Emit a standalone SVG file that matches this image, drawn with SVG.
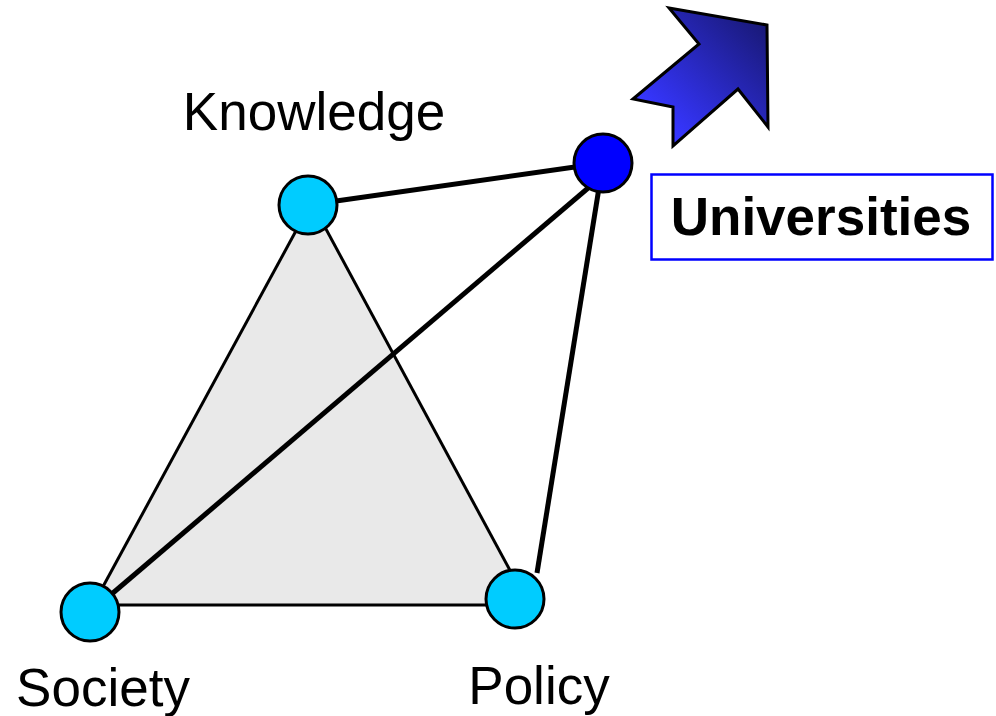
<svg xmlns="http://www.w3.org/2000/svg" width="996" height="716" viewBox="0 0 996 716">
<style>
.lbl{font-family:"Liberation Sans",Arial,sans-serif;font-size:53px;fill:#000}
.node{stroke:#000;stroke-width:3}
.edge{stroke:#000;stroke-width:3;fill:none}
.thick{stroke:#000;stroke-width:5;fill:none}
</style>
<defs>
<linearGradient id="ag" x1="0" y1="1" x2="1" y2="0">
<stop offset="0.2" stop-color="#3636ff"/>
<stop offset="1" stop-color="#16166a"/>
</linearGradient>
</defs>
<rect width="996" height="716" fill="#fff"/>
<g id="triangle">
<polygon points="311,205 93,605 527,605" fill="#e9e9e9" stroke="none"/>
</g>
<g id="connectors">
<line class="edge" x1="310" y1="205" x2="93" y2="605"/>
<line class="edge" x1="313" y1="205" x2="527" y2="602"/>
<line class="edge" x1="90" y1="605" x2="515" y2="605"/>
<line class="thick" x1="603" y1="163" x2="308" y2="205"/>
<line class="thick" x1="594" y1="183" x2="100" y2="604"/>
<line class="thick" x1="603" y1="163" x2="537" y2="573"/>
</g>
<g id="knowledge">
<circle class="node" cx="308" cy="205" r="29" fill="#00ccff"/>
<text class="lbl" x="314" y="130" text-anchor="middle">Knowledge</text>
</g>
<g id="society">
<circle class="node" cx="90" cy="612" r="29" fill="#00ccff"/>
<text class="lbl" x="103" y="706" text-anchor="middle">Society</text>
</g>
<g id="policy">
<circle class="node" cx="515" cy="599" r="29" fill="#00ccff"/>
<text class="lbl" x="539" y="704" text-anchor="middle">Policy</text>
</g>
<g id="universities">
<circle class="node" cx="603" cy="163" r="29" fill="#0000ff"/>
<rect x="651.5" y="174.5" width="341" height="85" fill="#fff" stroke="#0000ff" stroke-width="2.5"/>
<text class="lbl" x="821" y="235" text-anchor="middle" font-weight="bold">Universities</text>
</g>
<g id="arrow">
<polygon points="669,8 767,25 768,127 738,89 673,146 673,107 633,99 699,44" fill="url(#ag)" stroke="#000" stroke-width="3" stroke-linejoin="miter"/>
</g>
</svg>
